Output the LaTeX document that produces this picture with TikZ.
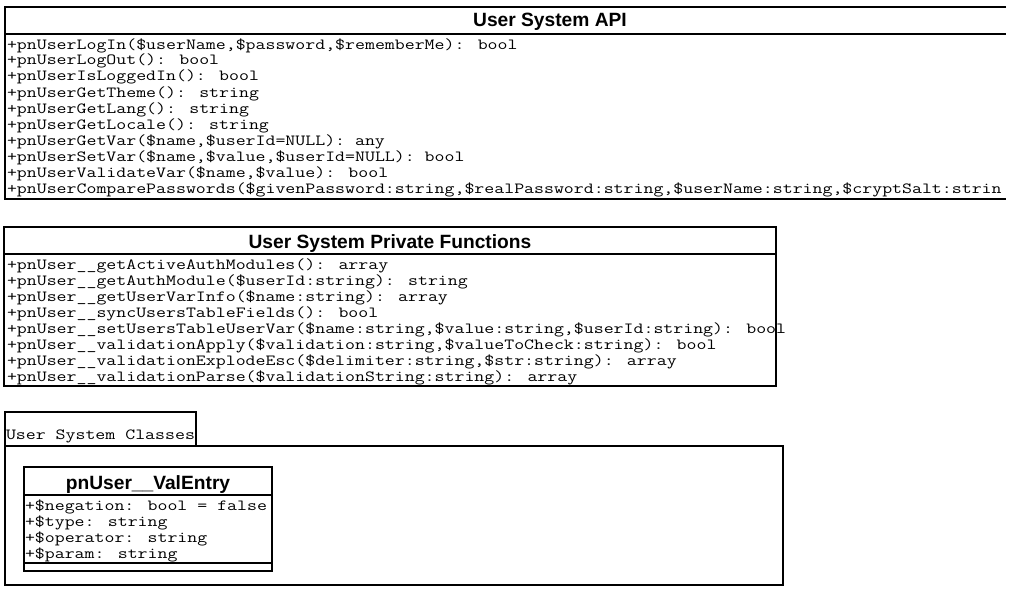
\documentclass[tikz,border=0pt]{standalone}
\usepackage{fontspec}
\newfontfamily\headfont{Liberation Sans}
\newfontfamily\rowfont{Latin Modern Mono}[FakeStretch=1.246]

\begin{document}
\begin{tikzpicture}[x=1pt, y=-1pt]
    \tikzstyle{every node}=[inner sep=0pt, outer sep=0pt]
    \tikzstyle{umltitle}=[anchor=base, font=\headfont\bfseries\fontsize{19.2}{20}\selectfont]
    \tikzstyle{umlrow}=[anchor=base west, font=\rowfont\fontsize{15.5}{16}\selectfont]
    \tikzstyle{umlline}=[line width=2pt]
    \useasboundingbox (0,0) rectangle (1009,594);

    % User System API (runs past the right edge)
    \draw[umlline] (1006,7) -- (5,7) -- (5,199) -- (1006,199);
    \draw[umlline] (5,34) -- (1006,34);
    \node[umltitle] (apititle) at (550,27) {User System API};
    \foreach \txt [count=\i] in {
        {+pnUserLogIn(\$userName,\$password,\$rememberMe): bool},
        {+pnUserLogOut(): bool},
        {+pnUserIsLoggedIn(): bool},
        {+pnUserGetTheme(): string},
        {+pnUserGetLang(): string},
        {+pnUserGetLocale(): string},
        {+pnUserGetVar(\$name,\$userId=NULL): any},
        {+pnUserSetVar(\$name,\$value,\$userId=NULL): bool},
        {+pnUserValidateVar(\$name,\$value): bool},
        {+pnUserComparePasswords(\$givenPassword:string,\$realPassword:string,\$userName:string,\$cryptSalt:strin}}
        \node[umlrow] (api\i) at (7,33+16*\i) {\txt};

    % User System Private Functions
    \draw[umlline] (4,227) rectangle (776,386);
    \draw[umlline] (4,254) -- (776,254);
    \node[umltitle] (privtitle) at (390,248) {User System Private Functions};
    \foreach \txt [count=\i] in {
        {+pnUser\_\_getActiveAuthModules(): array},
        {+pnUser\_\_getAuthModule(\$userId:string): string},
        {+pnUser\_\_getUserVarInfo(\$name:string): array},
        {+pnUser\_\_syncUsersTableFields(): bool},
        {+pnUser\_\_setUsersTableUserVar(\$name:string,\$value:string,\$userId:string): bool},
        {+pnUser\_\_validationApply(\$validation:string,\$valueToCheck:string): bool},
        {+pnUser\_\_validationExplodeEsc(\$delimiter:string,\$str:string): array},
        {+pnUser\_\_validationParse(\$validationString:string): array}}
        \node[umlrow] (priv\i) at (7,253+16*\i) {\txt};

    % User System Classes package
    \draw[umlline] (5,446) -- (5,412) -- (196,412) -- (196,446);
    \draw[umlline] (5,446) rectangle (783,585);
    \node[umlrow] (pkglabel) at (6,439) {User System Classes};

    % pnUser__ValEntry
    \draw[umlline] (24,467) rectangle (272,571);
    \draw[umlline] (24,495) -- (272,495);
    \draw[umlline] (24,563) -- (272,563);
    \node[umltitle] (valtitle) at (148,489) {pnUser\_\_ValEntry};
    \foreach \txt [count=\i] in {
        {+\$negation: bool = false},
        {+\$type: string},
        {+\$operator: string},
        {+\$param: string}}
        \node[umlrow] (val\i) at (25,494+16*\i) {\txt};
\end{tikzpicture}
\end{document}
